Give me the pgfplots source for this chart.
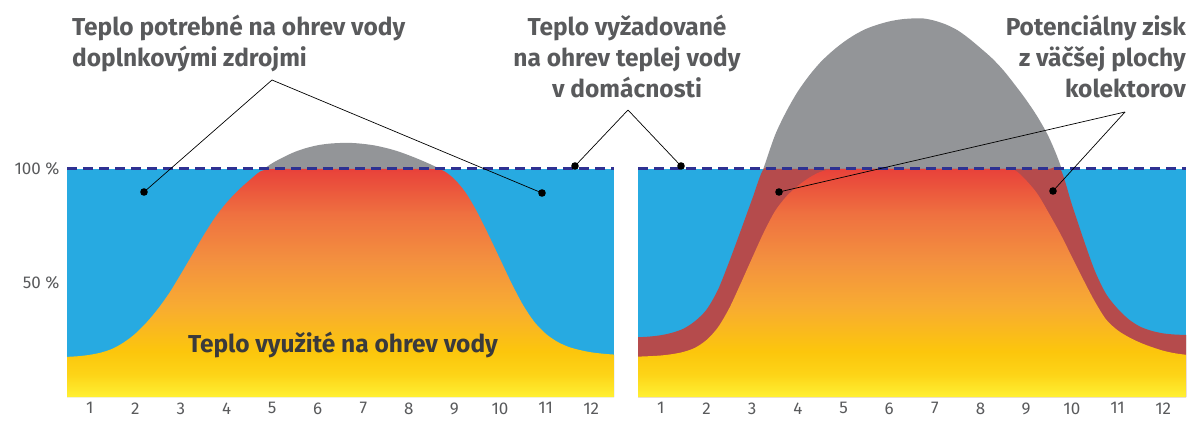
\documentclass[border=0pt]{standalone}
\usepackage{fontspec}
\setmainfont{Fira Sans}
\usepackage{pgfplots}
\usepackage{pgfplotstable}
\pgfplotsset{compat=1.18}

\definecolor{cblue}{HTML}{27AAE1}
\definecolor{cgrey}{HTML}{939598}
\definecolor{cband}{HTML}{B54B4C}
\definecolor{cnavy}{HTML}{2E3192}
\definecolor{ctext}{HTML}{595A5C}
\definecolor{cdark}{HTML}{3A3A3C}
\definecolor{w0}{HTML}{FFF033}
\definecolor{w1}{HTML}{FDD417}
\definecolor{w2}{HTML}{FCC60C}
\definecolor{w3}{HTML}{F8AB32}
\definecolor{w4}{HTML}{F3903F}
\definecolor{w5}{HTML}{EF7140}
\definecolor{w6}{HTML}{E8413A}

% vertical gradient of the used heat, fitted to 0..100 %
\pgfdeclareverticalshading{warm}{100bp}{color(0bp)=(w0); color(25bp)=(w0);
  color(30bp)=(w1); color(35bp)=(w2); color(45bp)=(w3); color(55bp)=(w4);
  color(65bp)=(w5); color(75bp)=(w6); color(100bp)=(w6)}

% solar yield, original collector area, left panel (% of demand)
\pgfplotstableread{
m y
0.5 17.6
0.75 17.9
1.0 18.5
1.25 19.5
1.5 21.2
1.75 24
2.0 27.8
2.25 32.8
2.5 38.8
2.75 45.8
3.0 54
3.25 62.5
3.5 71
3.75 78.8
4.0 85.2
4.25 90.5
4.5 95
4.75 99
5.0 102.5
5.25 105.2
5.5 107.5
5.75 109.2
6.0 110.4
6.25 111.1
6.5 111.4
6.75 111.4
7.0 111
7.25 110.3
7.5 109.2
7.75 107.8
8.0 106
8.25 104
8.5 101.8
8.75 99.3
9.0 95.5
9.25 89.5
9.5 81
9.75 71
10.0 60.5
10.25 50
10.5 40.5
10.75 33
11.0 27.8
11.25 24.3
11.5 22
11.75 20.6
12.0 19.6
12.25 19
12.5 18.6
}\solarA

% original collector area as drawn in the right panel
\pgfplotstableread{
m y
0.5 17.7
0.75 17.9
1.0 18.2
1.25 18.8
1.5 19.8
1.75 21.6
2.0 25
2.25 30.5
2.5 39
2.75 49.8
3.0 61
3.25 72
3.5 81.5
3.75 88
4.0 92.6
4.25 96.2
4.5 98.8
4.75 100.6
5.0 102.5
5.5 107.5
6.0 110.4
6.5 111.4
7.0 111
7.5 109.2
8.0 106
8.25 104
8.5 101.5
8.75 99.5
9.0 95
9.25 89
9.5 80.5
9.75 71.5
10.0 61.5
10.25 51.5
10.5 42
10.75 34
11.0 29.3
11.25 26.2
11.5 23.8
11.75 21.9
12.0 20.3
12.25 19.2
12.5 18.5
}\solarAr

% solar yield, larger collector area
\pgfplotstableread{
m y
0.5 26.2
0.75 26.5
1.0 27.1
1.25 28.2
1.5 30
1.75 33.3
2.0 38.3
2.25 47
2.5 59.5
2.75 73
3.0 86.8
3.25 100.4
3.5 114.8
3.75 125.3
4.0 134
4.25 141
4.5 146.9
4.75 151.6
5.0 155.6
5.25 158.9
5.5 161.5
5.75 163.3
6.0 164.7
6.25 165.6
6.5 166
6.75 166
7.0 165
7.25 163.3
7.5 160.8
7.75 157.2
8.0 153
8.25 148.6
8.5 143.3
8.75 137
9.0 130.3
9.25 122.8
9.5 113.8
9.75 101.6
10.0 84.5
10.25 69.5
10.5 55.5
10.75 45.2
11.0 38.8
11.25 34
11.5 30.8
11.75 29
12.0 27.9
12.25 27.4
12.5 27.2
}\solarB

\pgfplotsset{
  panel/.style={
    width=547pt, height=397pt, scale only axis,
    xmin=0.5, xmax=12.5, ymin=0, ymax=174.1,
    axis line style={draw=none}, major tick length=0pt,
    xtick={1,...,12},
    /pgf/number format/assume math mode=true,
    ticklabel style={font=\fontsize{17}{20}\selectfont, text=ctext},
    xticklabel style={yshift=-2pt},
  },
}
\newcommand{\hd}{\fontsize{24.5}{29}\selectfont\bfseries}

\begin{document}
\begin{tikzpicture}
\path[use as bounding box] (0,0) rectangle (1200pt,-431pt);

% left panel
\begin{axis}[panel, at={(67pt,-397pt)}, anchor=south west,
  ytick={50,100}, yticklabels={50 \%,100 \%}, yticklabel style={xshift=-4pt}]
\addplot[fill=cgrey, draw=none, smooth] table {\solarA} \closedcycle;
\addplot[fill=cblue, draw=none] coordinates {(0.5,100) (12.5,100)} \closedcycle;
\addplot[draw=none, shade, shading=warm, smooth, y filter/.expression={min(y,100)}] table {\solarA} \closedcycle;
\addplot[cnavy, line width=3pt, dash pattern=on 10pt off 6pt] coordinates {(0.5,100) (12.5,100)};
\end{axis}

% right panel
\begin{axis}[panel, at={(638pt,-397pt)}, anchor=south west, width=548pt, ytick=\empty]
\addplot[fill=cgrey, draw=none, smooth] table {\solarB} \closedcycle;
\addplot[fill=cblue, draw=none] coordinates {(0.5,100) (12.5,100)} \closedcycle;
\addplot[fill=cband, draw=none, smooth, y filter/.expression={min(y,100)}] table {\solarB} \closedcycle;
\addplot[draw=none, shade, shading=warm, smooth, y filter/.expression={min(y,100)}] table {\solarAr} \closedcycle;
\addplot[cnavy, line width=3pt, dash pattern=on 10pt off 6pt] coordinates {(0.5,100) (12.5,100)};
\end{axis}

% headings
\begin{scope}[every node/.style={text=ctext, font=\hd, inner sep=0pt}]
\node[anchor=base west] at (72pt,-35pt) {Teplo potrebné na ohrev vody};
\node[anchor=base west] at (72pt,-66pt) {doplnkovými zdrojmi};
\node[anchor=base] at (627pt,-35pt) {Teplo vyžadované};
\node[anchor=base] at (627pt,-66pt) {na ohrev teplej vody};
\node[anchor=base] at (627pt,-97pt) {v domácnosti};
\node[anchor=base east] at (1186pt,-35pt) {Potenciálny zisk};
\node[anchor=base east] at (1186pt,-66pt) {z väčšej plochy};
\node[anchor=base east] at (1186pt,-97pt) {kolektorov};
\end{scope}
\node[anchor=base, text=cdark, font=\hd, inner sep=0pt] at (343pt,-352pt) {Teplo využité na ohrev vody};

% leader lines
\begin{scope}[line width=0.7pt]
\draw (272pt,-80pt) -- (144pt,-192pt);
\draw (272pt,-80pt) -- (542pt,-193pt);
\draw (628pt,-110pt) -- (575pt,-166pt);
\draw (628pt,-110pt) -- (681pt,-166pt);
\draw (1125pt,-112pt) -- (779pt,-192pt);
\draw (1125pt,-112pt) -- (1053pt,-191pt);
\fill (144pt,-192pt) circle (3.8pt);
\fill (542pt,-193pt) circle (3.8pt);
\fill (575pt,-166pt) circle (3.8pt);
\fill (681pt,-166pt) circle (3.8pt);
\fill (779pt,-192pt) circle (3.8pt);
\fill (1053pt,-191pt) circle (3.8pt);
\end{scope}
\end{tikzpicture}
\end{document}
